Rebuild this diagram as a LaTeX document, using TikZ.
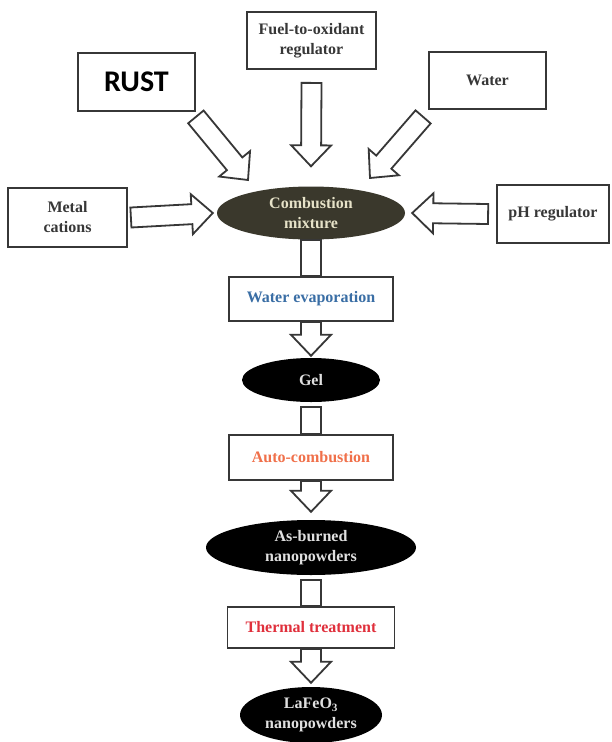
\documentclass[tikz,border=0pt]{standalone}
\usepackage{fontspec}
\setmainfont{Liberation Serif}
\newfontfamily\rustfont{Carlito}
\usepackage{xcolor}
\definecolor{ink}{RGB}{55,55,55}
\definecolor{mix}{RGB}{58,56,44}
\definecolor{evap}{RGB}{58,110,165}
\definecolor{burn}{RGB}{240,112,74}
\definecolor{heat}{RGB}{224,48,60}
\usepackage{tikz}
\usetikzlibrary{shapes,calc}

\tikzset{
  inbox/.style={draw=ink, line width=1.8pt, fill=white, text=ink, align=center,
    inner sep=0pt, font=\fontsize{16}{20}\selectfont\bfseries},
  stage/.style={ellipse, fill=black, text=white!88!black, align=center,
    inner sep=0pt, font=\fontsize{16}{20}\selectfont\bfseries},
  hollow/.style={draw=ink, line width=1.8pt, fill=white, line join=miter},
}

% open block arrow from #1 to #2
\newcommand{\hollowarrow}[2]{%
  \coordinate (ha-s) at (#1);
  \coordinate (ha-e) at (#2);
  \coordinate (ha-b) at ($(ha-e)!21pt!(ha-s)$);
  \draw[hollow] ($(ha-s)!10pt!90:(ha-e)$) -- ($(ha-b)!10pt!90:(ha-e)$)
    -- ($(ha-b)!20pt!90:(ha-e)$) -- (ha-e) -- ($(ha-b)!20pt!-90:(ha-e)$)
    -- ($(ha-b)!10pt!-90:(ha-e)$) -- ($(ha-s)!10pt!-90:(ha-e)$) -- cycle;
}
\newcommand{\hollowbar}[2]{%
  \coordinate (hb-s) at (#1);
  \coordinate (hb-e) at (#2);
  \draw[hollow] ([xshift=-10pt]hb-s) rectangle ([xshift=10pt]hb-e);
}

\begin{document}
\begin{tikzpicture}[x=1pt,y=-1pt]
  \useasboundingbox[fill=white] (0,0) rectangle (611,742);

  % inputs
  \node[inbox, minimum width=129pt, minimum height=57pt] (fuel) at (311.5,40.5) {Fuel-to-oxidant\\regulator};
  \node[inbox, minimum width=117pt, minimum height=58pt, text=black] (rust) at (136.5,82) {\rustfont\fontsize{30}{32}\selectfont\bfseries RUST};
  \node[inbox, minimum width=117pt, minimum height=57pt] (water) at (487.5,80.5) {Water};
  \node[inbox, minimum width=119pt, minimum height=59pt] (metal) at (67.5,217.5) {Metal\\cations};
  \node[inbox, minimum width=112pt, minimum height=58pt] (ph) at (553,214) {pH regulator};

  % process chain
  \node[stage, fill=mix, text={rgb,255:red,230;green,226;blue,200}, minimum width=188pt, minimum height=53pt] (mixture) at (311,213) {Combustion\\mixture};
  \node[inbox, minimum width=164pt, minimum height=44pt, text=evap] (evaporation) at (311,299) {Water evaporation};
  \node[stage, minimum width=138pt, minimum height=44pt] (gel) at (311,380) {Gel};
  \node[inbox, minimum width=164pt, minimum height=45pt, text=burn] (autocomb) at (311,457.5) {Auto-combustion};
  \node[stage, minimum width=210pt, minimum height=55pt] (asburned) at (311,547.5) {As-burned\\nanopowders};
  \node[inbox, minimum width=167pt, minimum height=41pt, text=heat] (thermal) at (311,627.5) {Thermal treatment};
  \node[stage, minimum width=142pt, minimum height=56pt] (lafeo) at (311,715) {LaFeO\textsubscript{3}\\nanopowders};

  \coordinate (rusttail) at ([shift={(0,5)}]rust.south east);
  \coordinate (rusttip) at (248,180);
  \coordinate (watertail) at ([shift={(-5,7)}]water.south west);
  \coordinate (watertip) at (370,178);

  \hollowarrow{[yshift=-13pt]fuel.south}{[yshift=20pt]mixture.north}
  \hollowarrow{rusttail}{rusttip}
  \hollowarrow{watertail}{watertip}
  \hollowarrow{[xshift=3pt]metal.east}{[xshift=-4pt]mixture.west}
  \hollowarrow{[xshift=-8pt]ph.west}{[xshift=7pt]mixture.east}

  \hollowbar{mixture.south}{evaporation.north}
  \hollowarrow{evaporation.south}{[yshift=2pt]gel.north}
  \hollowbar{[yshift=-5pt]gel.south}{autocomb.north}
  \hollowarrow{autocomb.south}{[yshift=8pt]asburned.north}
  \hollowbar{[yshift=-5pt]asburned.south}{thermal.north}
  \hollowarrow{thermal.south}{[yshift=4pt]lafeo.north}
\end{tikzpicture}
\end{document}
